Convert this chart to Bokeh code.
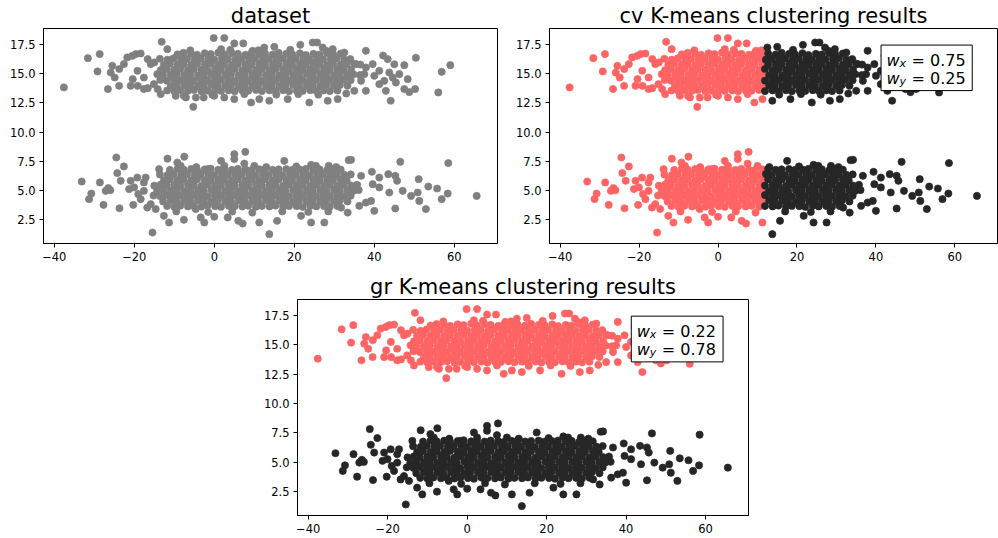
from bokeh.plotting import figure
from bokeh.layouts import column, row
from bokeh.models import (Range1d, FixedTicker, CustomJSTickFormatter, BoxAnnotation,
                          Label, Spacer)
from bokeh.embed import file_html
from bokeh.resources import INLINE

# ---------------- data ----------------
# upper blob: sparse / edge points
top_edge_x = [-37.6, -31.6, -28.65, -29.2, -26.6, -25.5, -25.9, -24.9, -23.8, -22.6,
              -21.75, -20.5, -18.4, -20.9, -19.2, -17.6, -17.6, -15.9, -15.1, -14.25,
              -13.4, -13.15, -11.75, -9.65, -7.6, -5.25, -2.65, 0.0, 2.5, 5.0,
              9.2, 11.25, 13.75, 18.35, 23.75, 28.35, 30.85, -0.15, 2.5, 5.0,
              7.25, 1.7, 9.6, 12.5, 15.0, 21.5, 24.6, 25.7, 27.1, 29.6,
              32.5, 37.9, 42.2, 43.35, 50.4, 59.0, 56.85, 56.0, 44.1, 47.5,
              45.0, 39.6, 37.9, 41.25, 43.75, 46.25, 48.35, 45.4, 41.25, 42.9,
              47.5, 48.75, 50.2, 37.9, 35.0, 36.7, 37.5, 40.0, 42.5, 44.6,
              35.4, -23.75, -19.6, -16.65, -15.0, -20.4, -19.15, -16.65, -14.15, -7.1,
              -4.6, -0.5, 7.5, 15.5, 21.0, 26.0, 33.0, 4.0, 11.0, 19.0,
              -6.0, 28.0]
top_edge_y = [13.82, 16.33, 16.68, 15.19, 13.68, 15.67, 15.1, 14.67, 13.96, 15.82,
              16.39, 16.53, 16.73, 13.96, 15.25, 14.67, 13.68, 15.82, 14.1, 14.96,
              13.25, 17.73, 17.1, 13.1, 13.1, 12.16, 12.96, 13.1, 12.96, 12.82,
              12.53, 12.82, 12.68, 12.82, 12.53, 12.68, 12.82, 18.05, 18.05, 17.59,
              17.59, 17.1, 16.96, 17.24, 17.3, 17.47, 17.67, 17.67, 17.24, 17.1,
              16.81, 16.96, 16.55, 16.25, 16.36, 15.73, 15.16, 13.39, 12.68, 15.73,
              15.8, 15.82, 15.53, 15.25, 15.1, 14.96, 14.53, 14.24, 14.1, 13.53,
              13.68, 13.42, 13.68, 13.53, 13.53, 14.39, 14.96, 14.82, 14.39, 14.67,
              15.82, 15.4, 16.68, 16.25, 15.96, 14.53, 13.96, 13.76, 13.68, 12.96,
              12.96, 13.2, 13.25, 13.2, 13.25, 13.2, 13.3, 17.05, 17.0, 17.05,
              17.0, 16.95]
# upper blob: dense core, one list per band
top_core_x = [
    [-9.2, -7.7, -5.8, -4.3, -2.4, -0.9, 1.0, 2.5, 4.4, 5.9, 7.8, 9.3, 11.2, 12.7, 14.6, 16.1, 18.0, 19.5, 21.4, 22.9, 24.8, 26.3, 28.2, 29.7, 31.6],
    [-13.6, -11.7, -10.2, -8.3, -6.8, -4.9, -3.4, -1.5, 0.0, 1.9, 3.4, 5.3, 6.8, 8.7, 10.2, 12.1, 13.6, 15.5, 17.0, 18.9, 20.4, 22.3, 23.8, 25.7, 27.2, 29.1, 30.6, 32.5, 34.0],
    [-12.6, -11.1, -9.2, -7.7, -5.8, -4.3, -2.4, -0.9, 1.0, 2.5, 4.4, 5.9, 7.8, 9.3, 11.2, 12.7, 14.6, 16.1, 18.0, 19.5, 21.4, 22.9, 24.8, 26.3, 28.2, 29.7, 31.6, 33.1, 35.0, 36.5],
    [-13.4, -11.9, -10.0, -8.5, -6.6, -5.1, -3.2, -1.7, 0.2, 1.7, 3.6, 5.1, 7.0, 8.5, 10.4, 11.9, 13.8, 15.3, 17.2, 18.7, 20.6, 22.1, 24.0, 25.5, 27.4, 28.9, 30.8, 32.3, 34.2],
    [-12.8, -10.9, -9.4, -7.5, -6.0, -4.1, -2.6, -0.7, 0.8, 2.7, 4.2, 6.1, 7.6, 9.5, 11.0, 12.9, 14.4, 16.3, 17.8, 19.7, 21.2, 23.1, 24.6, 26.5, 28.0, 29.9, 31.4, 33.3, 34.8, 36.4],
    [-13.5, -11.9, -10.1, -8.5, -6.7, -5.1, -3.3, -1.7, 0.1, 1.7, 3.5, 5.1, 6.9, 8.5, 10.3, 11.9, 13.7, 15.3, 17.1, 18.7, 20.5, 22.1, 23.9, 25.5, 27.3, 28.9, 30.7, 32.3, 34.1],
    [-10.9, -9.4, -7.5, -6.0, -4.1, -2.6, -0.7, 0.8, 2.7, 4.2, 6.1, 7.6, 9.5, 11.0, 12.9, 14.4, 16.3, 17.8, 19.7, 21.2, 23.1, 24.6, 26.5, 28.0, 29.9, 31.4, 33.3],
    [-11.8, -10.0, -8.5, -6.6, -5.1, -3.2, -1.7, 0.2, 1.7, 3.6, 5.1, 7.0, 8.5, 10.4, 11.9, 13.8, 15.3, 17.2, 18.7, 20.6, 22.1, 24.0, 25.5, 27.4, 28.9, 30.8],
]
top_core_y = [
    [16.65, 16.78, 16.70, 16.62, 16.75, 16.68, 16.80, 16.66, 16.74, 16.70, 16.62, 16.77, 16.69, 16.73, 16.64, 16.79, 16.70, 16.66, 16.75, 16.60, 16.70, 16.64, 16.76, 16.68, 16.72],
    [16.28, 16.20, 16.31, 16.22, 16.27, 16.18, 16.30, 16.24, 16.21, 16.29, 16.25, 16.19, 16.28, 16.23, 16.30, 16.20, 16.26, 16.22, 16.31, 16.18, 16.27, 16.24, 16.20, 16.29, 16.22, 16.26, 16.30, 16.21, 16.25],
    [15.76, 15.85, 15.78, 15.80, 15.74, 15.84, 15.79, 15.86, 15.77, 15.81, 15.75, 15.83, 15.78, 15.80, 15.85, 15.76, 15.82, 15.79, 15.84, 15.75, 15.81, 15.78, 15.86, 15.80, 15.74, 15.83, 15.77, 15.81, 15.85, 15.78],
    [15.30, 15.38, 15.33, 15.40, 15.31, 15.37, 15.34, 15.29, 15.39, 15.35, 15.32, 15.38, 15.30, 15.36, 15.33, 15.40, 15.31, 15.37, 15.35, 15.29, 15.38, 15.33, 15.36, 15.31, 15.37, 15.34, 15.39, 15.30, 15.35],
    [14.86, 14.90, 14.95, 14.88, 14.93, 14.85, 14.91, 14.94, 14.87, 14.90, 14.96, 14.86, 14.92, 14.89, 14.94, 14.87, 14.91, 14.85, 14.93, 14.90, 14.88, 14.95, 14.86, 14.91, 14.94, 14.87, 14.92, 14.89, 14.95, 14.88],
    [14.46, 14.40, 14.49, 14.43, 14.47, 14.41, 14.50, 14.44, 14.42, 14.48, 14.45, 14.40, 14.47, 14.43, 14.49, 14.41, 14.46, 14.44, 14.50, 14.42, 14.47, 14.45, 14.40, 14.48, 14.43, 14.46, 14.41, 14.49, 14.44],
    [13.96, 14.05, 13.99, 14.03, 13.95, 14.01, 14.06, 13.97, 14.00, 14.04, 13.96, 14.02, 13.98, 14.05, 13.99, 14.03, 13.95, 14.01, 14.04, 13.97, 14.00, 14.03, 13.96, 14.05, 13.98, 14.02, 13.97],
    [13.56, 13.50, 13.58, 13.53, 13.60, 13.49, 13.55, 13.59, 13.52, 13.57, 13.50, 13.56, 13.54, 13.60, 13.51, 13.57, 13.53, 13.58, 13.50, 13.55, 13.52, 13.59, 13.54, 13.57, 13.51, 13.56],
]

# lower blob: sparse / edge points
bot_edge_x = [-33.15, -24.5, -22.6, -24.25, -23.4, -28.6, -30.75, -31.3, -26.5, -27.15,
              -27.7, -23.7, -15.45, -20.25, -20.9, -21.3, -19.25, -17.15, -17.6, -18.4,
              -16.75, -14.65, -13.8, -11.7, -9.25, -7.5, -8.4, -11.3, -7.6, -12.6,
              -3.4, -4.65, -2.5, 7.75, 5.0, 5.0, 1.7, 7.5, 10.0, 17.5,
              24.2, 25.4, 28.6, 33.6, -1.65, 6.0, 7.1, 11.25, 13.75, 15.7,
              24.2, 27.5, 33.35, 0.0, 3.35, 21.7, 31.7, 34.2, 46.5, 58.5,
              65.6, 39.4, 43.5, 45.25, 45.7, 51.1, 53.5, 55.7, 58.35, 56.85,
              52.9, 45.25, 50.85, 51.25, 49.2, 47.1, 43.75, 41.25, 39.6, 39.2,
              40.0, 36.25, 37.9, 36.7, 41.25, -26.0, -20.05, -19.0, -17.6, -15.9,
              -9.5, -1.5, 4.5, 9.5, 17.0, 23.5, 28.5, 13.0, 20.5, -4.5,
              2.5, 30.5]
bot_edge_y = [5.76, 7.82, 7.05, 6.48, 5.82, 5.68, 4.73, 4.25, 5.2, 4.96,
              3.76, 3.47, 1.39, 3.76, 5.82, 5.11, 6.1, 6.1, 4.96, 4.25,
              3.53, 3.4, 6.82, 7.72, 7.39, 7.89, 7.1, 2.25, 2.48, 2.82,
              2.68, 3.4, 2.25, 8.3, 8.1, 7.68, 7.53, 7.3, 7.1, 7.53,
              7.19, 7.1, 7.1, 7.59, 6.82, 2.39, 2.16, 2.25, 1.25, 2.39,
              2.25, 2.25, 3.1, 2.74, 2.68, 2.82, 3.53, 7.62, 7.45, 7.34,
              4.53, 6.59, 6.39, 6.25, 5.82, 5.96, 5.33, 5.16, 4.73, 4.25,
              3.4, 3.45, 4.82, 4.1, 4.53, 4.96, 4.82, 5.25, 5.53, 4.1,
              3.25, 3.68, 3.96, 6.25, 6.1, 5.02, 5.25, 4.68, 5.68, 3.82,
              3.2, 3.15, 3.2, 3.1, 3.2, 3.15, 3.2, 7.0, 7.05, 7.0,
              7.1, 7.0]
# lower blob: dense core, one list per band
bot_core_x = [
    [-11.1, -9.2, -7.7, -5.8, -4.3, -2.4, -0.9, 1.0, 2.5, 4.4, 5.9, 7.8, 9.3, 11.2, 12.7, 14.6, 16.1, 18.0, 19.5, 21.4, 22.9, 24.8, 26.3, 28.2, 29.7, 31.6],
    [-13.6, -11.7, -10.2, -8.3, -6.8, -4.9, -3.4, -1.5, 0.0, 1.9, 3.4, 5.3, 6.8, 8.7, 10.2, 12.1, 13.6, 15.5, 17.0, 18.9, 20.4, 22.3, 23.8, 25.7, 27.2, 29.1, 30.6, 32.5, 34.1],
    [-12.6, -11.1, -9.2, -7.7, -5.8, -4.3, -2.4, -0.9, 1.0, 2.5, 4.4, 5.9, 7.8, 9.3, 11.2, 12.7, 14.6, 16.1, 18.0, 19.5, 21.4, 22.9, 24.8, 26.3, 28.2, 29.7, 31.6, 33.1],
    [-15.0, -13.4, -11.9, -10.0, -8.5, -6.6, -5.1, -3.2, -1.7, 0.2, 1.7, 3.6, 5.1, 7.0, 8.5, 10.4, 11.9, 13.8, 15.3, 17.2, 18.7, 20.6, 22.1, 24.0, 25.5, 27.4, 28.9, 30.8, 32.3, 34.2, 35.7],
    [-14.3, -12.8, -10.9, -9.4, -7.5, -6.0, -4.1, -2.6, -0.7, 0.8, 2.7, 4.2, 6.1, 7.6, 9.5, 11.0, 12.9, 14.4, 16.3, 17.8, 19.7, 21.2, 23.1, 24.6, 26.5, 28.0, 29.9, 31.4, 33.3, 34.8, 36.1],
    [-15.2, -13.5, -11.9, -10.1, -8.5, -6.7, -5.1, -3.3, -1.7, 0.1, 1.7, 3.5, 5.1, 6.9, 8.5, 10.3, 11.9, 13.7, 15.3, 17.1, 18.7, 20.5, 22.1, 23.9, 25.5, 27.3, 28.9, 30.7, 32.3, 34.1],
    [-12.8, -10.9, -9.4, -7.5, -6.0, -4.1, -2.6, -0.7, 0.8, 2.7, 4.2, 6.1, 7.6, 9.5, 11.0, 12.9, 14.4, 16.3, 17.8, 19.7, 21.2, 23.1, 24.6, 26.5, 28.0, 29.9, 31.4, 33.3],
    [-11.8, -10.0, -8.5, -6.6, -5.1, -3.2, -1.7, 0.2, 1.7, 3.6, 5.1, 7.0, 8.5, 10.4, 11.9, 13.8, 15.3, 17.2, 18.7, 20.6, 22.1, 24.0, 25.5, 27.4, 28.9, 30.8],
]
bot_core_y = [
    [6.75, 6.85, 6.78, 6.83, 6.74, 6.80, 6.86, 6.77, 6.82, 6.75, 6.84, 6.79, 6.73, 6.81, 6.85, 6.76, 6.80, 6.83, 6.75, 6.79, 6.84, 6.77, 6.81, 6.74, 6.82, 6.78],
    [6.36, 6.30, 6.39, 6.33, 6.38, 6.31, 6.35, 6.40, 6.32, 6.37, 6.34, 6.29, 6.38, 6.35, 6.31, 6.40, 6.33, 6.36, 6.30, 6.39, 6.34, 6.37, 6.32, 6.35, 6.38, 6.30, 6.36, 6.33, 6.37],
    [5.85, 5.94, 5.88, 5.92, 5.86, 5.95, 5.89, 5.84, 5.93, 5.90, 5.87, 5.94, 5.85, 5.91, 5.88, 5.95, 5.86, 5.92, 5.90, 5.84, 5.93, 5.88, 5.91, 5.86, 5.92, 5.89, 5.94, 5.85],
    [5.40, 5.49, 5.43, 5.47, 5.41, 5.50, 5.44, 5.39, 5.48, 5.45, 5.42, 5.49, 5.40, 5.46, 5.43, 5.50, 5.41, 5.47, 5.45, 5.39, 5.48, 5.43, 5.46, 5.41, 5.47, 5.44, 5.49, 5.40, 5.45, 5.42, 5.48],
    [4.95, 5.04, 4.98, 5.02, 4.96, 5.05, 4.99, 4.94, 5.03, 5.00, 4.97, 5.04, 4.95, 5.01, 4.98, 5.05, 4.96, 5.02, 5.00, 4.94, 5.03, 4.98, 5.01, 4.96, 5.02, 4.99, 5.04, 4.95, 5.00, 4.97, 5.03],
    [4.56, 4.50, 4.59, 4.53, 4.57, 4.51, 4.60, 4.54, 4.49, 4.58, 4.55, 4.52, 4.59, 4.50, 4.56, 4.53, 4.60, 4.51, 4.57, 4.55, 4.49, 4.58, 4.53, 4.56, 4.51, 4.57, 4.54, 4.59, 4.50, 4.55],
    [4.05, 4.14, 4.08, 4.12, 4.06, 4.15, 4.09, 4.04, 4.13, 4.10, 4.07, 4.14, 4.05, 4.11, 4.08, 4.15, 4.06, 4.12, 4.10, 4.04, 4.13, 4.08, 4.11, 4.06, 4.12, 4.09, 4.14, 4.05],
    [3.66, 3.60, 3.69, 3.63, 3.67, 3.61, 3.70, 3.64, 3.59, 3.68, 3.65, 3.62, 3.69, 3.60, 3.66, 3.63, 3.70, 3.61, 3.67, 3.65, 3.59, 3.68, 3.63, 3.66, 3.61, 3.67],
]

x_ticks = [-40, -20, 0, 20, 40, 60]
y_ticks = [2.5, 5.0, 7.5, 10.0, 12.5, 15.0, 17.5]
x_limits = (-42.7, 70.8)
y_limits = (0.45, 18.87)

titles = ["dataset", "cv K-means clustering results", "gr K-means clustering results"]
cv_weights = ["0.75", "0.25"]
gr_weights = ["0.22", "0.78"]
cv_split_x = 11.3     # boundary between the two cv clusters
gr_split_y = 10.0     # boundary between the two gr clusters

# ---------------- assemble ----------------
def pairs(xs, ys):
    n = min(len(xs), len(ys))
    return list(xs[:n]), list(ys[:n])


all_x, all_y = [], []
for xs, ys in [(top_edge_x, top_edge_y), (bot_edge_x, bot_edge_y)] + \
        list(zip(top_core_x, top_core_y)) + list(zip(bot_core_x, bot_core_y)):
    a, b = pairs(xs, ys)
    all_x += a
    all_y += b

FONT = "DejaVu Sans"
GREY = "#808080"
RED = "#ff6464"
DARK = "#262626"


def make_fig(title, width, height, bl, br, bt, bb):
    p = figure(width=width, height=height, output_backend="svg", toolbar_location=None,
               x_range=Range1d(*x_limits), y_range=Range1d(*y_limits),
               min_border_left=bl, min_border_right=br, min_border_top=bt, min_border_bottom=bb)
    p.title.text = title
    p.title.align = "center"
    p.title.text_font = FONT
    p.title.text_font_size = "21px"
    p.title.text_font_style = "normal"
    p.title.text_color = "black"
    p.title.standoff = 1
    p.grid.visible = False
    p.outline_line_color = "black"
    p.outline_line_width = 1
    p.outline_line_alpha = 1
    p.background_fill_color = "white"
    p.border_fill_color = "white"
    for ax in (p.xaxis[0], p.yaxis[0]):
        ax.axis_line_color = "black"
        ax.major_tick_line_color = "black"
        ax.minor_tick_line_color = None
        ax.major_tick_out = 4
        ax.major_tick_in = 0
        ax.major_label_text_font = FONT
        ax.major_label_text_font_size = "11.5px"
        ax.major_label_text_color = "black"
        ax.major_label_standoff = 4
    p.xaxis.ticker = FixedTicker(ticks=x_ticks)
    p.yaxis.ticker = FixedTicker(ticks=y_ticks)
    p.xaxis.formatter = CustomJSTickFormatter(
        code="return (tick < 0 ? '\\u2212' : '') + Math.abs(tick);")
    p.yaxis.formatter = CustomJSTickFormatter(code="return tick.toFixed(1);")
    return p


def dots(p, xs, ys, color):
    p.scatter(xs, ys, size=7.2, fill_color=color, line_color=color, line_width=0.7)


def weight_box(p, weights):
    p.add_layout(BoxAnnotation(left=41.3, right=64.4, top=17.45, bottom=13.55,
                               fill_color="white", fill_alpha=1.0,
                               line_color="black", line_width=1, line_alpha=1.0))
    for i, (sub, w) in enumerate(zip(["x", "y"], weights)):
        yb = 16.1 - 1.5 * i
        p.add_layout(Label(x=42.7, y=yb, text="w", text_font=FONT, text_font_size="16px",
                           text_font_style="italic", text_baseline="alphabetic",
                           text_color="black"))
        p.add_layout(Label(x=42.7, y=yb, x_offset=13, y_offset=-3, text=sub, text_font=FONT,
                           text_font_size="11px", text_font_style="italic",
                           text_baseline="alphabetic", text_color="black"))
        p.add_layout(Label(x=42.7, y=yb, x_offset=25, text="= " + w, text_font=FONT,
                           text_font_size="16px", text_baseline="alphabetic",
                           text_color="black"))


# panel 1: dataset
p1 = make_fig(titles[0], 512, 268, 43, 15, 28, 25)
dots(p1, all_x, all_y, GREY)

# panel 2: cv clustering (split along x)
p2 = make_fig(titles[1], 486, 268, 35, 1, 28, 25)
cv_left = [(x, y) for x, y in zip(all_x, all_y) if x < cv_split_x]
cv_right = [(x, y) for x, y in zip(all_x, all_y) if x >= cv_split_x]
dots(p2, [a for a, _ in cv_left], [b for _, b in cv_left], RED)
dots(p2, [a for a, _ in cv_right], [b for _, b in cv_right], DARK)
weight_box(p2, cv_weights)

# panel 3: gr clustering (split along y)
p3 = make_fig(titles[2], 503, 270, 35, 15, 31, 23)
gr_top = [(x, y) for x, y in zip(all_x, all_y) if y > gr_split_y]
gr_bot = [(x, y) for x, y in zip(all_x, all_y) if y <= gr_split_y]
dots(p3, [a for a, _ in gr_top], [b for _, b in gr_top], RED)
dots(p3, [a for a, _ in gr_bot], [b for _, b in gr_bot], DARK)
weight_box(p3, gr_weights)

layout = column(row(p1, p2), row(Spacer(width=260, height=270), p3))

open("out.html", "w").write(file_html(layout, INLINE))
